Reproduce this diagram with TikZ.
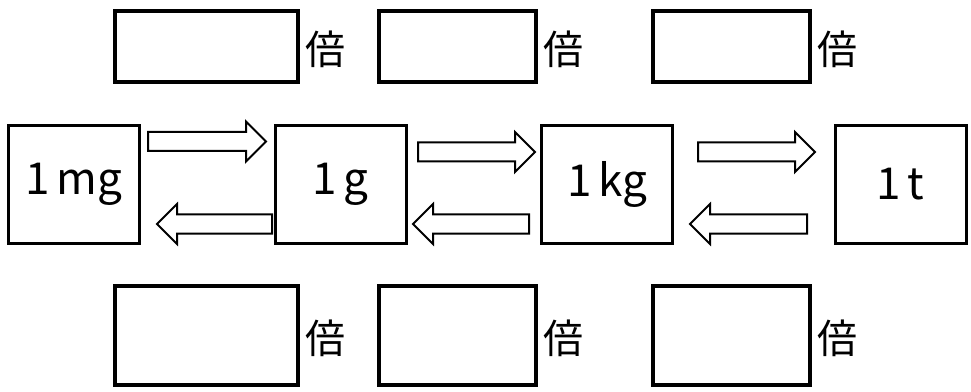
\documentclass[tikz,border=0pt]{standalone}
\usepackage{fontspec}
\setmainfont{Noto Sans CJK JP}
\usetikzlibrary{positioning}
\tikzset{
 unitbox/.style={draw,line width=2.25pt,minimum width=98.25pt,minimum height=88.5pt,inner sep=0pt,font=\fontsize{33}{33}\selectfont},
 blankbox/.style={draw,line width=3pt,minimum width=117.75pt,inner sep=0pt},
 times/.style={right=4pt of #1,yshift=-2pt,inner sep=0pt,font=\fontsize{30}{30}\selectfont},
 blockarrow/.style={draw,line width=1.5pt,line join=miter}
}
\newcommand\rightblock[3]{\draw[blockarrow] (#1,#3-9.5) -- (#2-20,#3-9.5) -- (#2-20,#3-20) -- (#2,#3) -- (#2-20,#3+20) -- (#2-20,#3+9.5) -- (#1,#3+9.5) -- cycle;}
\newcommand\leftblock[3]{\draw[blockarrow] (#1,#3) -- (#1+20,#3-20) -- (#1+20,#3-9.5) -- (#2,#3-9.5) -- (#2,#3+9.5) -- (#1+20,#3+9.5) -- (#1+20,#3+20) -- cycle;}
\begin{document}
\begin{tikzpicture}[x=0.75pt,y=-0.75pt]
 \useasboundingbox (0,0) rectangle (971,392);
 \node[unitbox] (mg) at (74,184.5) {1\kern5pt mg};
 \node[unitbox] (g) at (340.5,184.5) {1\kern5pt g};
 \node[unitbox] (kg) at (607,184.5) {1\kern5pt kg};
 \node[unitbox] (t) at (900.5,184.5) {1\kern5pt t};
 \node[blankbox,minimum width=137.25pt,minimum height=53.25pt] (up1) at (206.5,46.5) {};
 \node[blankbox,minimum height=53.25pt] (up2) at (457,46.5) {};
 \node[blankbox,minimum height=53.25pt] (up3) at (731.5,46.5) {};
 \node[blankbox,minimum width=137.25pt,minimum height=74.25pt] (down1) at (206.5,335.5) {};
 \node[blankbox,minimum height=74.25pt] (down2) at (457,335.5) {};
 \node[blankbox,minimum height=74.25pt] (down3) at (731.5,335.5) {};
 \foreach \b in {up1,up2,up3,down1,down2,down3}
  \node[times=\b] (\b-x) {倍};
 \rightblock{148}{266}{141.5}
 \rightblock{418}{535}{152}
 \rightblock{698}{815}{152}
 \leftblock{157}{272}{224}
 \leftblock{413}{529}{224}
 \leftblock{690}{807}{224}
\end{tikzpicture}
\end{document}
